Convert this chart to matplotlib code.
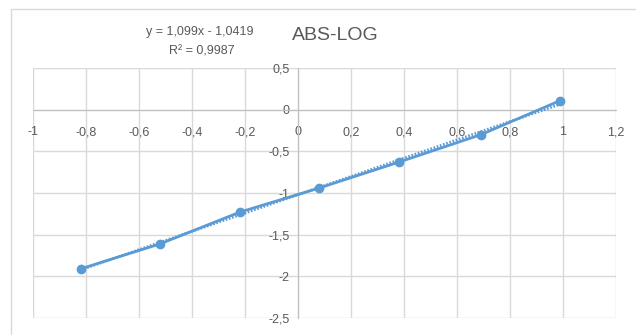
# ABS-LOG scatter with linear trendline (Excel look)

import numpy as np
import matplotlib.pyplot as plt
from matplotlib.ticker import FuncFormatter, MultipleLocator
from matplotlib.patches import Rectangle

# data
log_conc = [-0.82, -0.52, -0.22, 0.08, 0.38, 0.69, 0.99]
log_abs = [-1.91, -1.61, -1.23, -0.94, -0.63, -0.30, 0.11]

title = "ABS-LOG"
eq_text = "y = 1,099x - 1,0419"
r2_text = "R² = 0,9987"

blue = "#5B9BD5"
grid_col = "#D9D9D9"
text_col = "#595959"


def comma(v, pos):
    v = round(v, 6)
    if v == 0:
        return "0"
    return f"{v:g}".replace(".", ",")


def main():
    plt.rcParams["font.family"] = ["Liberation Sans", "DejaVu Sans"]
    fig = plt.figure(figsize=(6.36, 3.35), dpi=100)

    # chart area border
    fig.patches.append(Rectangle((11 / 636, -0.1), 1.0, 1 - 9 / 335 + 0.1,
                                 transform=fig.transFigure, fill=False,
                                 edgecolor=grid_col, linewidth=1.0))

    ax = fig.add_axes([33 / 636, 1 - 318 / 335, 583 / 636, 250 / 335])
    ax.set_xlim(-1, 1.2)
    ax.set_ylim(-2.5, 0.5)
    ax.xaxis.set_major_locator(MultipleLocator(0.2))
    ax.yaxis.set_major_locator(MultipleLocator(0.5))
    ax.xaxis.set_major_formatter(FuncFormatter(comma))
    ax.yaxis.set_major_formatter(FuncFormatter(comma))
    ax.grid(True, color=grid_col, linewidth=1.0)
    ax.set_axisbelow(True)

    for side in ["top", "right"]:
        ax.spines[side].set_visible(False)
    ax.spines["left"].set_position(("data", 0))
    ax.spines["bottom"].set_position(("data", 0))
    ax.spines["left"].set_color("#BFBFBF")
    ax.spines["bottom"].set_color("#BFBFBF")
    ax.tick_params(length=0, labelsize=9, labelcolor=text_col)
    ax.tick_params(axis="x", pad=12)
    ax.tick_params(axis="y", pad=6)

    # series: markers + line
    ax.plot(log_conc, log_abs, color=blue, linewidth=2.0, zorder=3)
    ax.plot(log_conc, log_abs, "o", color=blue, markersize=6, zorder=4)

    # linear trendline (dotted)
    slope, intercept = np.polyfit(log_conc, log_abs, 1)
    xs = np.array([log_conc[0], log_conc[-1]])
    ax.plot(xs, slope * xs + intercept, color=blue, linewidth=2.0,
            linestyle=(0, (0.6, 0.6)), zorder=3)

    fig.text(335 / 636, 1 - 35 / 335, title, ha="center", va="center",
             fontsize=14, color=text_col)
    fig.text(200 / 636, 1 - 32 / 335, eq_text, ha="center", va="center",
             fontsize=9, color=text_col)
    fig.text(202 / 636, 1 - 51 / 335, r2_text, ha="center", va="center",
             fontsize=9, color=text_col)

    fig.savefig("out.png", dpi=100, facecolor="white")


if __name__ == "__main__":
    main()
